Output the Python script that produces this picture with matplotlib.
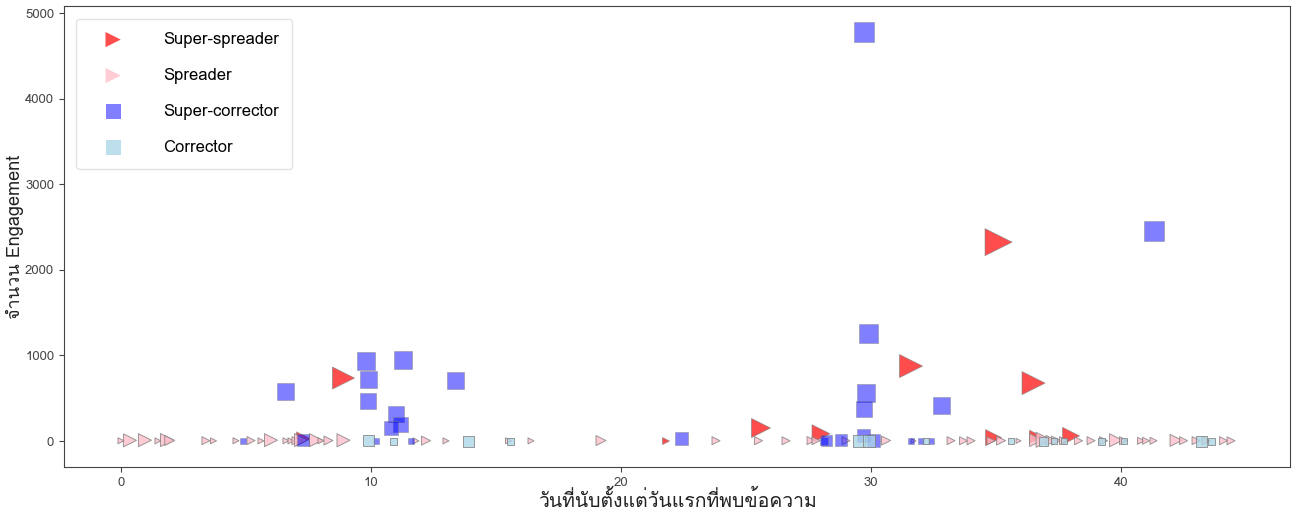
import numpy as np
import matplotlib
matplotlib.use("Agg")
import matplotlib.pyplot as plt
from matplotlib import font_manager
from matplotlib.ft2font import FT2Font


# Days since first seen, engagement count and share count for each group
super_spreader_day = [7.3, 8.9, 21.8, 25.6, 28.0, 31.6, 34.9, 35.1, 36.5, 36.6, 38.0]
super_spreader_eng = [25, 736, 0, 152, 85, 876, 40, 2324, 677, 50, 60]
super_spreader_share = [14, 22, 7, 19, 18, 23, 16, 27, 23, 13, 17]

spreader_day = [0.0, 0.36, 0.96, 1.48, 1.84, 1.95, 3.4, 3.7, 4.6, 5.2, 5.6, 6.0,
                6.6, 6.8, 7.0, 7.2, 7.8, 8.0, 8.3, 8.9, 11.8, 12.2, 13.0, 15.5,
                16.4, 19.2, 23.8, 25.5, 26.6, 27.6, 27.8, 29.0, 30.6, 31.7, 33.2,
                33.7, 34.0, 34.8, 35.2, 35.9, 36.6, 36.9, 37.2, 37.4, 37.7, 38.3,
                38.8, 39.3, 39.8, 40.1, 40.8, 41.0, 41.3, 42.2, 42.5, 43.0, 43.4,
                44.1, 44.4]
spreader_eng = [3, 8, 10, 2, 12, 6, 4, 2, 3, 5, 2, 10,
                3, 2, 4, 12, 10, 3, 6, 9, 2, 5, 2, 3,
                2, 6, 4, 4, 3, 5, 4, 4, 6, 2, 4,
                3, 3, 4, 5, 2, 12, 15, 7, 6, 4, 3,
                4, 4, 9, 4, 3, 3, 3, 8, 4, 5, 4,
                4, 3]
spreader_share = [6, 13, 13, 6, 13, 10, 8, 6, 6, 8, 6, 13,
                  6, 6, 8, 13, 13, 6, 9, 13, 6, 9, 6, 6,
                  6, 10, 8, 8, 8, 8, 8, 8, 9, 5, 8,
                  8, 8, 8, 9, 5, 13, 15, 10, 9, 8, 8,
                  8, 8, 13, 8, 7, 7, 7, 12, 8, 8, 8,
                  8, 8]

super_corrector_day = [29.7, 41.3, 29.9, 29.8, 29.7, 32.8, 9.8, 11.3, 9.9, 13.4,
                       9.9, 6.6, 11.0, 11.2, 10.8, 22.4, 7.3, 28.2, 28.8, 29.7,
                       30.1, 4.9, 10.2, 11.6, 28.1, 31.6, 32.0, 32.4]
super_corrector_eng = [4777, 2453, 1261, 560, 374, 420, 934, 946, 724, 712,
                       467, 584, 315, 198, 152, 35, 10, 10, 15, 60,
                       10, 0, 0, 0, 0, 0, 0, 0]
super_corrector_share = [20, 20, 19, 18, 16, 17, 18, 18, 17, 17,
                         16, 17, 16, 15, 14, 13, 12, 11, 12, 13,
                         13, 6, 6, 6, 8, 6, 6, 6]

corrector_day = [9.9, 10.9, 13.9, 15.6, 29.5, 29.9, 32.2, 35.6, 36.9, 37.3,
                 37.7, 39.2, 40.1, 43.2, 43.6]
corrector_eng = [10, 0, 0, 0, 0, 0, 0, 0, 0, 0, 0, 0, 0, 0, 0]
corrector_share = [11, 7, 11, 7, 12, 12, 6, 6, 9, 6, 6, 7, 6, 11, 7]


# pick an installed font that can draw Thai text
def thai_font():
    for f in font_manager.fontManager.ttflist:
        try:
            if 0x0E08 in FT2Font(f.fname).get_charmap():
                return f.name
        except Exception:
            continue
    return None


thai = thai_font()
families = [thai, "DejaVu Sans"] if thai else ["DejaVu Sans"]
plt.rcParams["font.family"] = families


def marker_area(share):
    # share count -> marker area in points^2
    return (np.array(share) * 0.72) ** 2


fig = plt.figure(figsize=(12.92, 5.11), dpi=100)
ax = fig.add_axes([0.0495, 0.086, 0.949, 0.902])

ax.scatter(super_spreader_day, super_spreader_eng, s=marker_area(super_spreader_share),
           marker=">", color="red", alpha=0.7, edgecolors="grey", linewidths=0.6,
           label="Super-spreader")
ax.scatter(spreader_day, spreader_eng, s=marker_area(spreader_share),
           marker=">", color="pink", alpha=0.8, edgecolors="grey", linewidths=0.7,
           label="Spreader")
ax.scatter(super_corrector_day, super_corrector_eng, s=marker_area(super_corrector_share),
           marker="s", color="blue", alpha=0.5, edgecolors="grey", linewidths=0.6,
           label="Super-corrector")
ax.scatter(corrector_day, corrector_eng, s=marker_area(corrector_share),
           marker="s", color="lightblue", alpha=0.8, edgecolors="grey", linewidths=0.7,
           label="Corrector")

ax.set_xlim(-2.28, 46.76)
ax.set_ylim(-304, 5082)
ax.set_xticks([0, 10, 20, 30, 40])
ax.set_yticks([0, 1000, 2000, 3000, 4000, 5000])
ax.tick_params(labelsize=9.5, colors="#444444", length=3.5)
for sp in ax.spines.values():
    sp.set_color("#444444")

ax.set_xlabel("วันที่นับตั้งแต่วันแรกที่พบข้อความ", fontsize=14, labelpad=1, color="#222222")
ax.set_ylabel("จำนวน Engagement", fontsize=13, labelpad=1, color="#222222")

leg = ax.legend(loc="upper left", fontsize=12, labelspacing=1.2, handletextpad=1.6,
                borderpad=0.8, borderaxespad=0.75, handlelength=2.8, frameon=True)
leg.get_frame().set_edgecolor("#dddddd")
for h in leg.legend_handles:
    h.set_sizes([120])
    h.set_edgecolor("none")

fig.savefig("out.png", dpi=100)
